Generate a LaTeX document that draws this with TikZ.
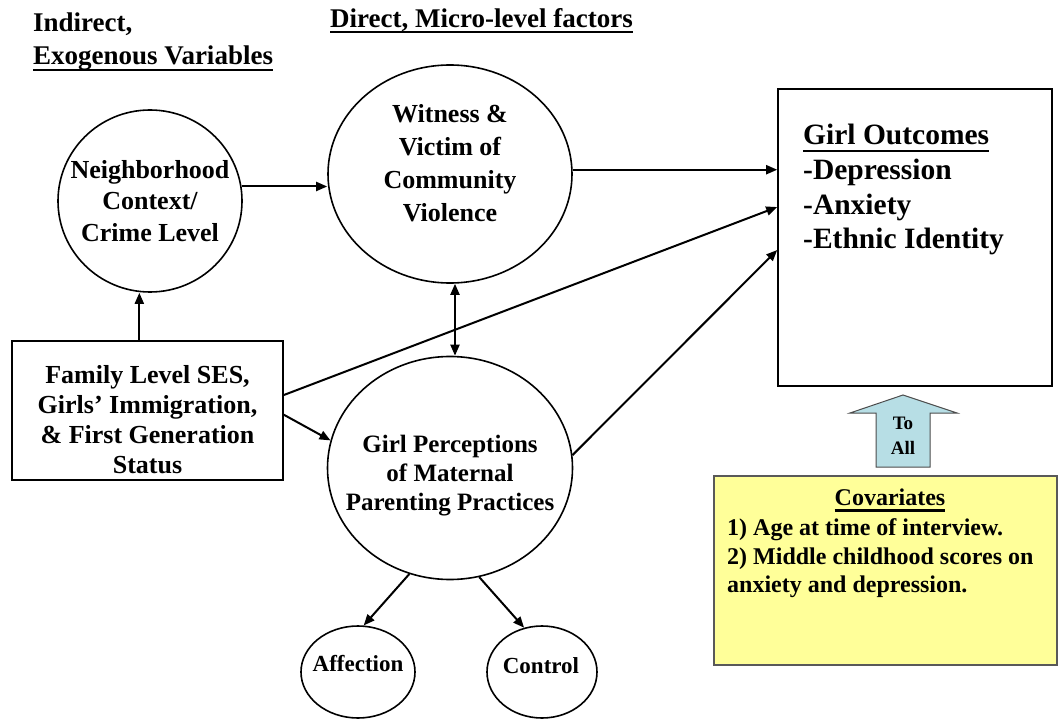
\documentclass[tikz,border=0pt]{standalone}
\usepackage{fontspec}
\setmainfont{Liberation Serif}
\usetikzlibrary{shapes.geometric,arrows.meta,calc}
\newcommand\fsz[2]{\fontsize{#1}{#2}\selectfont\bfseries}
\newcommand\myul[2]{\setbox0\hbox{#2}\rlap{\rule[#1]{\wd0}{2.2pt}}\box0}
\definecolor{covyellow}{RGB}{255,255,153}
\definecolor{arrowblue}{RGB}{183,222,229}
\tikzset{
  ell/.style={draw, ellipse, line width=1.6pt, inner sep=0pt},
  boxnode/.style={draw, rectangle, line width=1.6pt, inner sep=0pt},
  txt/.style={inner sep=0pt, align=center},
  ltxt/.style={inner sep=0pt, anchor=base west},
  arr/.style={line width=2pt, -{Triangle[length=11pt,width=9pt]}},
  darr/.style={line width=2pt, {Triangle[length=11pt,width=9pt]}-{Triangle[length=11pt,width=9pt]}},
}
\begin{document}
\begin{tikzpicture}[x=1pt,y=-1pt]
\useasboundingbox (0,0) rectangle (1058,719);

% headings
\node[ltxt, font=\fsz{27}{31}] (h1) at (33,32) {Indirect,};
\node[ltxt, font=\fsz{27}{31}] (h2) at (33,65) {\myul{-6.5pt}{Exogenous Variables}};
\node[ltxt, font=\fsz{27}{31}] (h3) at (330,28) {\myul{-5.5pt}{Direct, Micro-level factors}};

% shapes
\node[ell, minimum width=184pt, minimum height=182pt] (nb) at (150,201) {};
\node[ell, minimum width=244pt, minimum height=218pt] (wit) at (450,174) {};
\node[ell, minimum width=245pt, minimum height=223pt] (per) at (450,468) {};
\node[ell, minimum width=114pt, minimum height=92pt] (aff) at (358,672) {};
\node[ell, minimum width=110pt, minimum height=92pt] (ctl) at (542,672) {};
\node[boxnode, minimum width=271pt, minimum height=139pt] (fam) at (147.5,410.5) {};
\node[boxnode, minimum width=274pt, minimum height=297pt] (out) at (915,237.5) {};
\node[draw=black!65, line width=1.4pt, fill=covyellow, minimum width=343pt, minimum height=189pt, inner sep=0pt] (cov) at (885.5,570.5) {};

% up arrow shape "To All"
\draw[draw=black!70, line width=1pt, fill=arrowblue]
  (850,413) -- (903,395) -- (957,413) -- (930,413) -- (930,467) -- (876,467) -- (876,413) -- cycle;
\node[txt, font=\fsz{19}{25}] (toall) at (903,436) {To\\All};

% texts
\node[txt, font=\fsz{26}{31.5}] (nbt) at (150,201) {Neighborhood\\Context/\\Crime Level};
\node[txt, font=\fsz{26}{33}] (witt) at (450,163) {Witness \&\\Victim of\\Community\\Violence};
\node[txt, font=\fsz{25}{29}] (pert) at (450,476) {Girl Perceptions\\of Maternal\\Parenting Practices};
\node[txt, font=\fsz{26}{30}] (famt) at (147.5,420) {Family Level SES,\\Girls’ Immigration,\\\& First Generation\\Status};
\node[txt, font=\fsz{23}{28}] (afft) at (358,664) {Affection};
\node[txt, font=\fsz{23}{28}] (ctlt) at (541,666) {Control};

\node[ltxt, font=\fsz{29.5}{34}] (o1) at (803,145) {\myul{-7pt}{Girl Outcomes}};
\node[ltxt, font=\fsz{29.5}{34}] (o2) at (803,180) {-Depression};
\node[ltxt, font=\fsz{29.5}{34}] (o3) at (803,215) {-Anxiety};
\node[ltxt, font=\fsz{29.5}{34}] (o4) at (803,249) {-Ethnic Identity};

\node[txt, anchor=base, font=\fsz{24}{28}] (c1) at (890,505) {\myul{-6.5pt}{Covariates}};
\node[ltxt, font=\fsz{24}{28}] (c2) at (727,535) {1) Age at time of interview.};
\node[ltxt, font=\fsz{24}{28}] (c3) at (727,564) {2) Middle childhood scores on};
\node[ltxt, font=\fsz{24}{28}] (c4) at (727,592) {anxiety and depression.};

% connectors
\draw[arr] (nb.9) -- (wit.west |- nb.9);
\draw[arr] (wit.2) -- (wit.2 -| out.west);
\coordinate (famA) at ($(fam.north east)!0.39!(fam.south east)$);
\coordinate (famB) at ($(fam.north east)!0.53!(fam.south east)$);
\coordinate (famC) at ($(fam.north west)!0.47!(fam.north east)$);
\draw[arr] (famA) -- ($(out.north west)!0.398!(out.south west)$);
\draw[arr] (famB) -- (per.167);
\draw[arr] (per.6) -- ($(out.north west)!0.542!(out.south west)$);
\draw[arr] (famC) -- (famC |- nb.south);
\draw[darr] ($(wit.south)+(5,0)$) -- ($(per.north)+(5,0)$);
\draw[arr] (per.-111) -- (aff.83);
\draw[arr] (per.-75) -- (ctl.112);
\end{tikzpicture}
\end{document}
